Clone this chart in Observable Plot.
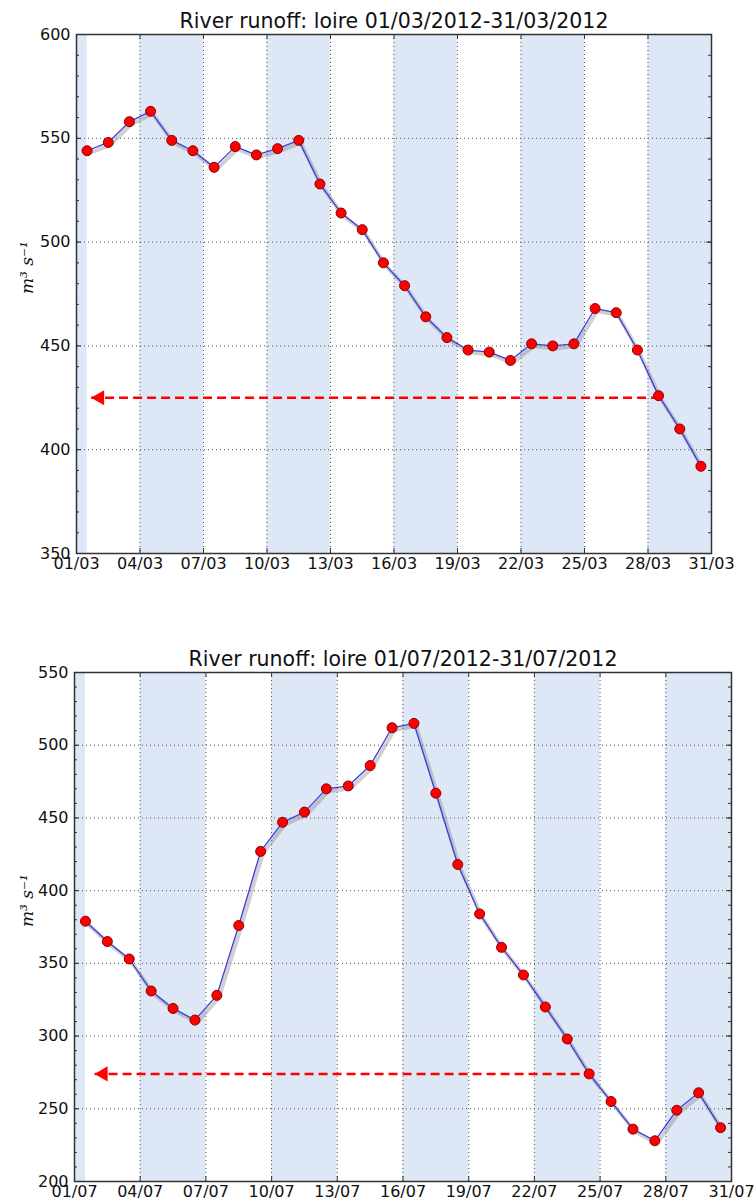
<!DOCTYPE html>
<html><head><meta charset="utf-8">
<script src="https://cdn.jsdelivr.net/npm/d3@7"></script>
<script src="https://cdn.jsdelivr.net/npm/@observablehq/plot@0.6"></script>
<style>
body{margin:0;background:#fff;width:756px;height:1204px;overflow:hidden}
svg{display:block}
</style></head><body><div id="c"></div>
<script>
// ---- data ----
const sampleDays = [1,2,3,4,5,6,7,8,9,10,11,12,13,14,15,16,17,18,19,20,21,22,23,24,25,26,27,28,29,30];
const marchRunoff = [544,548,558,563,549,544,536,546,542,545,549,528,514,506,490,479,464,454,448,447,443,451,450,451,468,466,448,426,410,392];
const julyRunoff  = [379,365,353,331,319,311,328,376,427,447,454,470,472,486,512,515,467,418,384,361,342,320,298,274,255,236,228,249,261,237];
const marchTickLabels = ["01/03","04/03","07/03","10/03","13/03","16/03","19/03","22/03","25/03","28/03","31/03"];
const julyTickLabels  = ["01/07","04/07","07/07","10/07","13/07","16/07","19/07","22/07","25/07","28/07","31/07"];
const marchBandStart = ["2012-03-01T00:00Z","2012-03-04T00:00Z","2012-03-10T00:00Z","2012-03-16T00:00Z","2012-03-22T00:00Z","2012-03-28T00:00Z"];
const marchBandEnd   = ["2012-03-01T12:00Z","2012-03-07T00:00Z","2012-03-13T00:00Z","2012-03-19T00:00Z","2012-03-25T00:00Z","2012-03-31T00:00Z"];
const julyBandStart  = ["2012-07-01T00:00Z","2012-07-04T00:00Z","2012-07-10T00:00Z","2012-07-16T00:00Z","2012-07-22T00:00Z","2012-07-28T00:00Z"];
const julyBandEnd    = ["2012-07-01T12:00Z","2012-07-07T00:00Z","2012-07-13T00:00Z","2012-07-19T00:00Z","2012-07-25T00:00Z","2012-07-31T00:00Z"];
const marchArrow = {from: "2012-03-28T12:00Z", tip: "2012-03-01T16:30Z", value: 425};
const julyArrow  = {from: "2012-07-24T12:00Z", tip: "2012-07-01T22:00Z", value: 274};
const marchYTicks = [350,400,450,500,550,600];
const julyYTicks  = [200,250,300,350,400,450,500,550];
const marchTitle = "River runoff: loire 01/03/2012-31/03/2012";
const julyTitle  = "River runoff: loire 01/07/2012-31/07/2012";
const yLabel = "m³ s⁻¹";

function panel(o) {
  const W = 756;
  const [mt, mr, mb, ml] = o.margins;
  const fw = W - ml - mr, fh = o.height - mt - mb;
  const data = sampleDays.map((d, i) => ({date: new Date(Date.UTC(2012, o.month, d, 12)), v: o.values[i]}));
  const tickDates = o.tickLabels.map(t => { const [dd, mm] = t.split("/").map(Number); return new Date(Date.UTC(2012, mm - 1, dd)); });
  const bands = o.bandStart.map((s, i) => ({start: new Date(s), end: new Date(o.bandEnd[i])}));
  const arrow = {from: new Date(o.arrow.from), tip: new Date(o.arrow.tip), value: o.arrow.value};
  const yd = [o.yTicks[0], o.yTicks[o.yTicks.length - 1]];
  const minor = d3.range(yd[0], yd[1] + 1, 10);
  return Plot.plot({
    width: W, height: o.height,
    marginTop: mt, marginRight: mr, marginBottom: mb, marginLeft: ml,
    style: {fontFamily: "DejaVu Sans", fontSize: "16px", color: "#111", background: "white", overflow: "visible"},
    x: {type: "utc", domain: [tickDates[0], tickDates[tickDates.length - 1]]},
    y: {domain: yd},
    marks: [
      Plot.rect(bands, {x1: "start", x2: "end", fill: "#dde7f6"}),
      Plot.ruleX(tickDates.slice(1, -1), {stroke: "#555", strokeWidth: 1, strokeDasharray: "1,3"}),
      Plot.ruleY(o.yTicks.slice(1, -1), {stroke: "#555", strokeWidth: 1, strokeDasharray: "1,3"}),
      Plot.line(data, {x: "date", y: "v", stroke: "#777", strokeOpacity: 0.35, strokeWidth: 4, dx: 2, dy: 2.5}),
      Plot.line(data, {x: "date", y: "v", stroke: "#3c3cdc", strokeWidth: 1.3}),
      Plot.link([arrow], {x1: "tip", x2: "from", y1: "value", y2: "value", stroke: "#ff0000", strokeWidth: 2.5, strokeDasharray: "9,5"}),
      Plot.dot([arrow], {x: "tip", y: "value", symbol: "triangle", r: 5.6, rotate: -90, fill: "#ff0000", dx: 8.7}),
      Plot.dot(data, {x: "date", y: "v", r: 5, fill: "#ff0000", stroke: "#8b0000", strokeWidth: 1}),
      Plot.ruleY(minor, {insetRight: fw - 3, stroke: "#333"}),
      Plot.ruleY(minor, {insetLeft: fw - 3, stroke: "#333"}),
      Plot.ruleY(o.yTicks, {insetRight: fw - 5, stroke: "#333"}),
      Plot.ruleY(o.yTicks, {insetLeft: fw - 5, stroke: "#333"}),
      Plot.ruleX(tickDates, {insetTop: fh - 5, stroke: "#333"}),
      Plot.ruleX(tickDates, {insetBottom: fh - 5, stroke: "#333"}),
      Plot.frame({stroke: "#333", strokeWidth: 1.5}),
      Plot.axisY({ticks: o.yTicks, tickSize: 0, tickPadding: 6, fontSize: 16}),
      Plot.axisX({ticks: tickDates, tickSize: 0, tickPadding: 4, fontSize: 16, tickFormat: (d, i) => o.tickLabels[i]}),
      Plot.text([o.title], {frameAnchor: "top", dy: -7, lineAnchor: "bottom", fontSize: 20.5, text: d => d}),
      Plot.text([yLabel], {frameAnchor: "left", dx: -(ml - 27), rotate: -90, fontFamily: "DejaVu Serif", fontStyle: "italic", fontSize: 17, text: d => d})
    ]
  });
}

const c = document.getElementById("c");
c.append(panel({title: marchTitle, month: 2, values: marchRunoff, tickLabels: marchTickLabels,
  bandStart: marchBandStart, bandEnd: marchBandEnd, arrow: marchArrow, yTicks: marchYTicks,
  height: 600, margins: [34, 45, 47, 76]}));
c.append(panel({title: julyTitle, month: 6, values: julyRunoff, tickLabels: julyTickLabels,
  bandStart: julyBandStart, bandEnd: julyBandEnd, arrow: julyArrow, yTicks: julyYTicks,
  height: 604, margins: [72, 25, 23, 74]}));
</script></body></html>
